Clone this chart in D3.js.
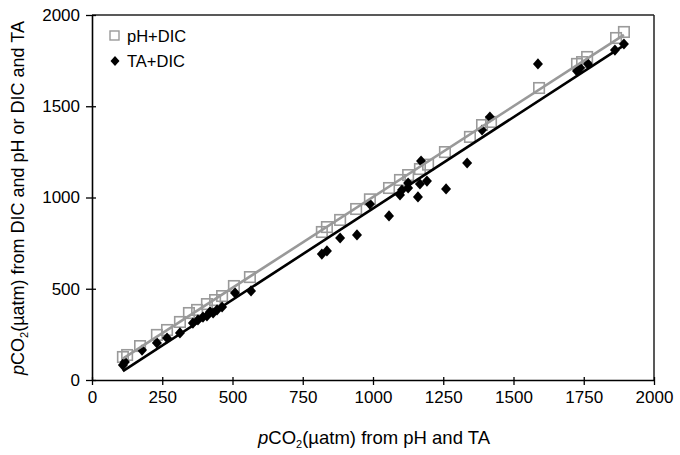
<!DOCTYPE html>
<html><head><meta charset="utf-8">
<script src="https://cdn.jsdelivr.net/npm/d3@7"></script>
<style>body{margin:0;background:#fff}svg{display:block}text{font-family:Arial,"Liberation Sans",sans-serif;fill:#000}</style>
</head><body><svg id="c" width="680" height="455"></svg>
<script>
const seriesNames = ["pH+DIC", "TA+DIC"];
const phDicX = [110,125,171,231,267,313,345,374,409,438,463,505,562,818,836,883,940,989,1057,1096,1125,1167,1196,1256,1345,1388,1420,1591,1726,1744,1762,1865,1893];
const phDicY = [126,137,186,247,274,318,367,384,416,438,460,515,564,811,838,877,937,990,1052,1096,1123,1156,1180,1249,1332,1397,1414,1600,1732,1742,1770,1874,1907];
const taDicX = [110,117,178,231,267,313,359,377,395,409,420,431,445,463,509,566,818,836,883,943,989,1057,1096,1103,1125,1125,1160,1167,1171,1192,1260,1335,1388,1416,1587,1726,1737,1765,1861,1893];
const taDicY = [82,99,164,203,230,258,312,329,345,351,373,367,384,400,477,488,690,707,778,795,964,899,1014,1041,1079,1052,1003,1074,1200,1090,1047,1189,1370,1441,1732,1693,1710,1732,1808,1841];
const xTicks = [0,250,500,750,1000,1250,1500,1750,2000];
const yTicks = [0,500,1000,1500,2000];

const svg = d3.select("#c");
const x = d3.scaleLinear().domain([0,2000]).range([92,654]);
const y = d3.scaleLinear().domain([0,2000]).range([380,15]);

// frame (top and right)
svg.append("line").attr("x1",92).attr("x2",654).attr("y1",15).attr("y2",15).attr("stroke","#222").attr("stroke-width",1.5);
svg.append("line").attr("x1",654).attr("x2",654).attr("y1",15).attr("y2",380).attr("stroke","#222").attr("stroke-width",1.5);

const xAxis = svg.append("g").attr("transform","translate(0,380)")
  .call(d3.axisBottom(x).tickValues(xTicks).tickSize(5).tickSizeOuter(0).tickFormat(d3.format("d")));
const yAxis = svg.append("g").attr("transform","translate(92,0)")
  .call(d3.axisLeft(y).tickValues(yTicks).tickSize(6).tickSizeOuter(0).tickFormat(d3.format("d")));
[xAxis,yAxis].forEach(g=>{
  g.select(".domain").attr("stroke","#000").attr("stroke-width",1.6);
  g.selectAll(".tick line").attr("stroke","#000").attr("stroke-width",1.3);
  g.selectAll("text").attr("font-size",17).attr("font-family","Arial, 'Liberation Sans', sans-serif").attr("fill","#000");
});
xAxis.selectAll(".tick line").attr("y1",-3);
yAxis.selectAll(".tick line").attr("x1",4);
xAxis.selectAll(".tick text").attr("dy","0.71em").attr("y",11);
yAxis.selectAll(".tick text").attr("x",-12);

function fit(xs, ys){
  const n = xs.length, mx = d3.mean(xs), my = d3.mean(ys);
  let sxy=0, sxx=0;
  for(let i=0;i<n;i++){ sxy+=(xs[i]-mx)*(ys[i]-my); sxx+=(xs[i]-mx)**2; }
  const b = sxy/sxx, a = my - b*mx;
  const x0 = d3.min(xs), x1 = d3.max(xs);
  return [[x0,a+b*x0],[x1,a+b*x1]];
}

const sq = 10.5;
svg.append("g").selectAll("rect").data(phDicX.map((v,i)=>[v,phDicY[i]])).join("rect")
  .attr("x",d=>x(d[0])-sq/2).attr("y",d=>y(d[1])-sq/2).attr("width",sq).attr("height",sq)
  .attr("fill","none").attr("stroke","#9a9a9a").attr("stroke-width",1.6);

const dia = "M0,-5.6L5,0L0,5.6L-5,0Z";
svg.append("g").selectAll("path").data(taDicX.map((v,i)=>[v,taDicY[i]])).join("path")
  .attr("d",dia).attr("transform",d=>`translate(${x(d[0])},${y(d[1])})`).attr("fill","#000");

const line = d3.line().x(d=>x(d[0])).y(d=>y(d[1]));
svg.append("path").attr("d",line(fit(phDicX,phDicY))).attr("stroke","#999").attr("stroke-width",2.6).attr("fill","none");
svg.append("path").attr("d",line(fit(taDicX,taDicY))).attr("stroke","#000").attr("stroke-width",2.6).attr("fill","none");

// legend
const lg = svg.append("g");
lg.append("rect").attr("x",110).attr("y",31).attr("width",9).attr("height",9).attr("fill","none").attr("stroke","#9a9a9a").attr("stroke-width",1.4);
lg.append("text").attr("x",127).attr("y",42).attr("font-size",16.5).text(seriesNames[0]);
lg.append("path").attr("d","M0,-5L4.5,0L0,5L-4.5,0Z").attr("transform","translate(115,61)").attr("fill","#000");
lg.append("text").attr("x",127).attr("y",67).attr("font-size",16.5).text(seriesNames[1]);

// axis titles
function title(sel, rest){
  sel.append("tspan").attr("font-style","italic").text("p");
  sel.append("tspan").text("CO");
  sel.append("tspan").attr("font-size",11).attr("dy",4).text("2");
  sel.append("tspan").attr("dy",-4).text(rest);
}
const xt = svg.append("text").attr("x",374).attr("y",444).attr("text-anchor","middle").attr("font-size",18.5);
title(xt, "(µatm) from pH and TA");
const yt = svg.append("text").attr("transform","translate(24,198) rotate(-90)").attr("text-anchor","middle").attr("font-size",18);
title(yt, "(µatm) from DIC and pH or DIC and TA");
</script></body></html>
